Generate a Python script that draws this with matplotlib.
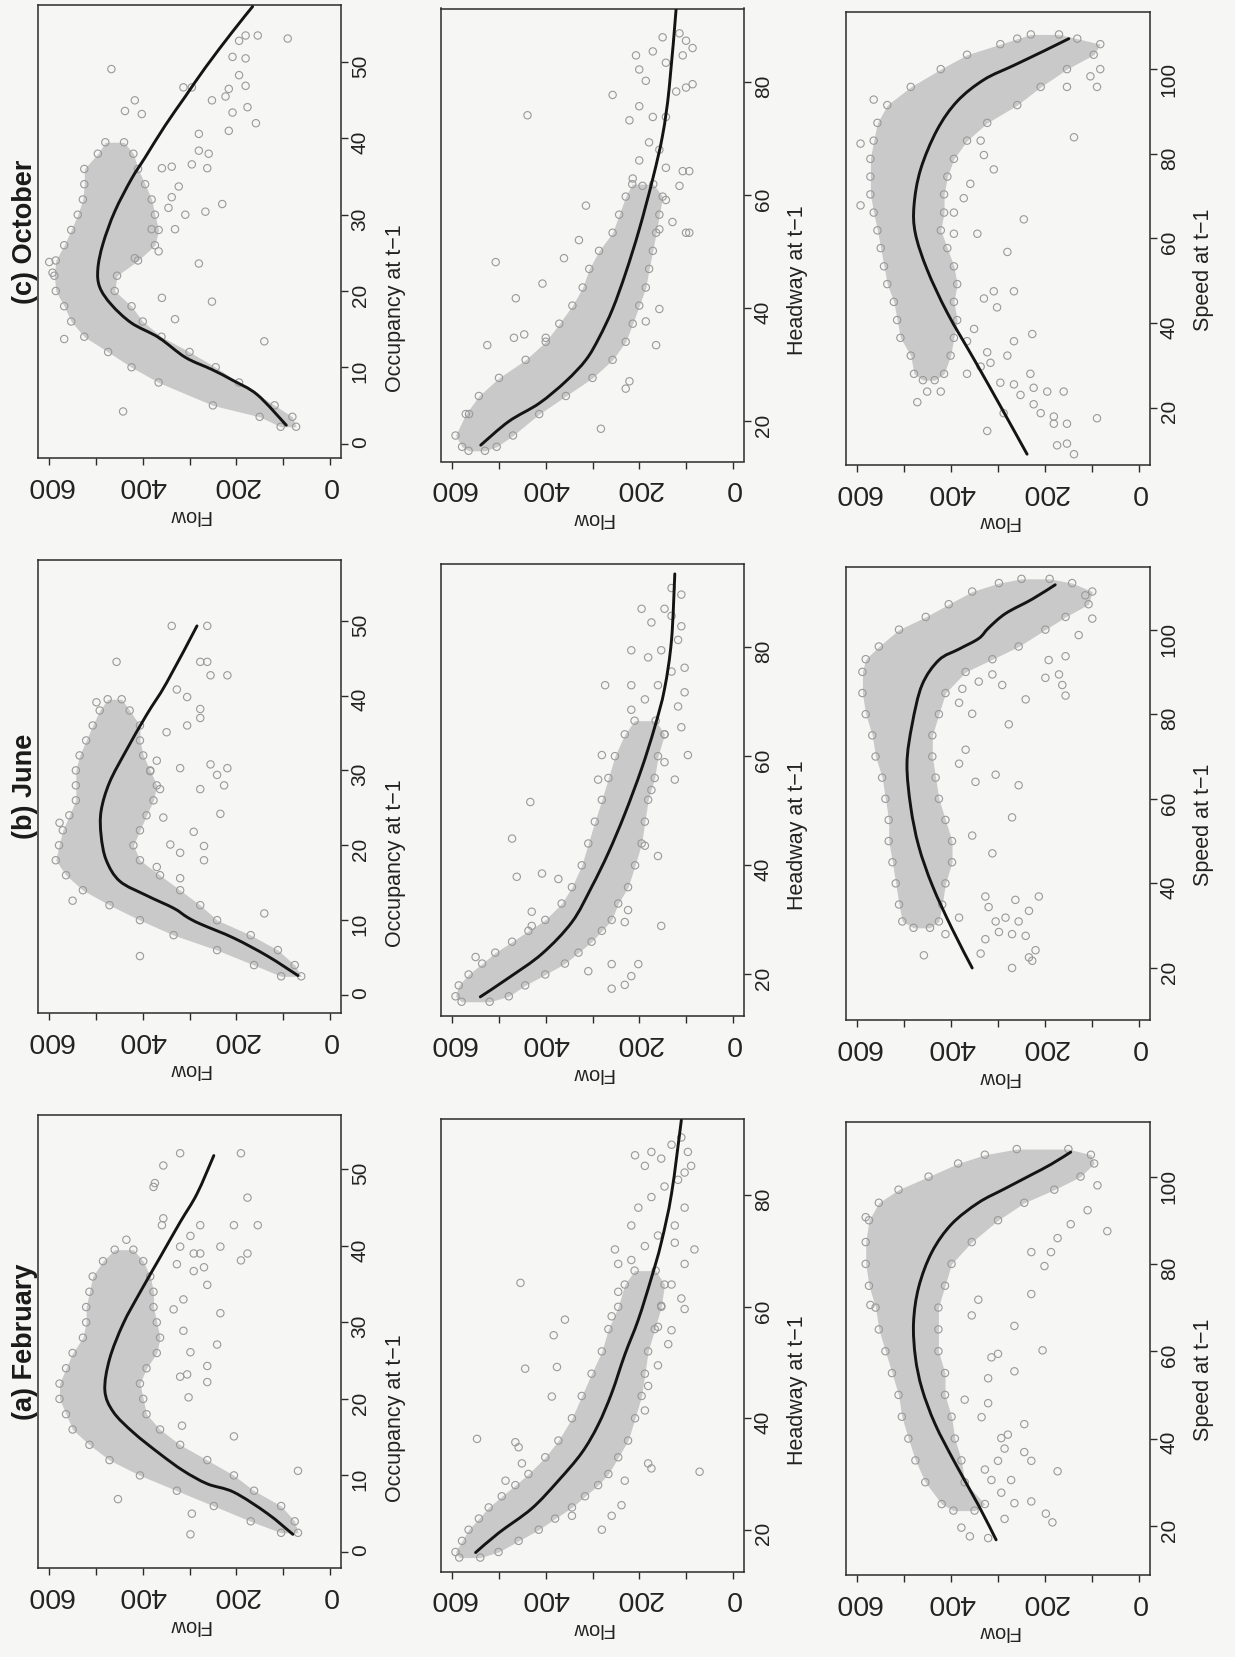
import matplotlib
matplotlib.use("Agg")
import matplotlib.pyplot as plt
from matplotlib import font_manager as fm
from matplotlib.path import Path
from matplotlib.patches import PathPatch

# ---------------- data ----------------
months = ["(a) February", "(b) June", "(c) October"]
var_labels = ["Occupancy at t\u22121", "Headway at t\u22121", "Speed at t\u22121"]
flow_ticks = [0, 100, 200, 300, 400, 500, 600]
flow_ticklabels = ["0", "", "200", "", "400", "", "600"]
occ_ticks = [0, 10, 20, 30, 40, 50]
hw_ticks = [20, 40, 60, 80]
sp_ticks = [20, 40, 60, 80, 100]

# ---- October / Occupancy ----
oct_occ_line_x = [2.4, 6.4, 8.3, 9.7, 11.3, 13.9, 15.8, 18.2, 20.5, 22.9, 26.2, 30.4, 34.7, 37.5, 41.7, 45.5, 49.3, 54.0, 57.3]
oct_occ_line_flow = [93, 155, 208, 252, 309, 366, 424, 467, 492, 496, 485, 460, 424, 395, 352, 309, 266, 208, 165]
oct_occ_band_x = [2.2, 3.5, 5, 8, 10, 12, 14, 16, 18, 20, 22, 24, 26, 28, 30, 32, 34, 36, 38, 39.5]
oct_occ_band_lo = [72, 80, 118, 194, 244, 300, 360, 400, 424, 460, 455, 410, 374, 366, 374, 381, 395, 410, 420, 440]
oct_occ_band_hi = [105, 150, 250, 366, 424, 474, 525, 553, 568, 586, 589, 586, 568, 553, 539, 528, 525, 525, 496, 480]
oct_occ_pts_x = [49.1, 4.2, 13.7, 23.8, 22.4, 41.0, 43.4, 44.1, 42.0, 40.6, 36.1, 36.6, 36.3, 46.7, 46.7, 45.0, 46.5, 48.3, 46.9, 50.7, 50.5, 52.8, 53.5, 53.5, 53.1, 45.5, 38.4, 38.0, 30.4, 31.4, 23.6, 18.6, 13.4, 19.1, 16.3, 28.1, 28.1, 25.2, 24.3, 30.0, 32.3, 36.1, 33.7, 30.9, 43.2, 45.0, 43.6]
oct_occ_pts_flow = [467, 442, 568, 600, 593, 216, 208, 176, 158, 280, 262, 295, 338, 313, 295, 252, 216, 194, 180, 208, 180, 194, 154, 180, 90, 223, 280, 259, 266, 230, 280, 252, 140, 359, 331, 331, 381, 366, 417, 309, 338, 359, 323, 345, 402, 417, 438]

# ---- October / Headway ----
oct_hw_line_x = [15.8, 20.0, 23.2, 27.1, 30.9, 34.8, 39.9, 46.3, 54.0, 63.0, 70.7, 79.0, 93.2]
oct_hw_line_flow = [539, 479, 414, 357, 314, 286, 257, 229, 200, 171, 150, 136, 121]
oct_hw_band_x = [14.8, 15.5, 17.5, 21.3, 24.5, 27.7, 30.9, 34.1, 37.3, 40.5, 43.7, 47.0, 50.2, 53.4, 56.6, 59.8, 62.0]
oct_hw_band_lo = [530, 505, 470, 414, 357, 300, 257, 229, 214, 200, 186, 179, 171, 164, 157, 150, 170]
oct_hw_band_hi = [565, 579, 593, 571, 543, 500, 443, 400, 371, 343, 321, 307, 286, 257, 243, 229, 215]
oct_hw_pts_x = [66.2, 69.4, 68.1, 64.9, 64.3, 75.8, 73.9, 73.9, 78.4, 79.1, 79.7, 80.3, 83.5, 84.8, 86.1, 85.5, 88.0, 88.7, 87.4, 73.3, 84.8, 82.3, 63.0, 61.7, 59.2, 61.7, 53.4, 64.3, 55.3, 54.0, 53.4, 77.8, 39.9, 37.7, 33.5, 25.8, 18.7, 27.1, 74.2, 48.2, 44.4, 41.8, 35.4, 33.5, 34.8, 34.8, 48.9, 58.2, 52.1, 21.3]
oct_hw_pts_flow = [200, 179, 157, 143, 107, 200, 171, 143, 121, 100, 86, 186, 143, 107, 86, 171, 150, 114, 100, 221, 207, 200, 214, 193, 143, 114, 100, 93, 129, 157, 93, 257, 157, 186, 164, 229, 282, 221, 439, 507, 407, 464, 446, 525, 468, 400, 361, 314, 329, 564]

# ---- October / Speed ----
oct_sp_line_x = [9.0, 20.4, 31.4, 42.4, 52.6, 61.1, 67.8, 76.3, 85.6, 92.4, 97.5, 100.9, 104.3, 107.2]
oct_sp_line_flow = [238, 295, 351, 408, 451, 476, 479, 465, 430, 387, 330, 266, 202, 149]
oct_sp_band_x = [26.5, 28, 32.3, 36.5, 40.7, 45, 49.2, 53.4, 57.7, 61.9, 66.1, 70.4, 74.6, 78.8, 83.1, 87.3, 91.5, 95.8, 100, 103.4, 105.9, 107.2, 108.2]
oct_sp_band_lo = [435, 415, 401, 394, 387, 394, 387, 394, 408, 422, 415, 415, 408, 394, 366, 323, 259, 209, 153, 96, 82, 131, 170]
oct_sp_band_hi = [460, 479, 486, 508, 515, 522, 536, 543, 550, 557, 565, 572, 572, 572, 565, 557, 536, 486, 422, 366, 295, 259, 230]
oct_sp_pts_x = [21.3, 23.8, 23.8, 14.5, 18.7, 20.8, 18.7, 17.9, 16.2, 16.2, 11.1, 11.5, 9.0, 17.5, 25.9, 25.5, 23.0, 24.7, 23.8, 23.8, 28.0, 32.3, 30.6, 33.1, 35.7, 38.6, 43.7, 35.7, 37.4, 45.8, 47.5, 47.5, 28.0, 29.7, 61.1, 61.1, 66.1, 56.8, 64.5, 69.5, 72.9, 76.3, 79.7, 83.1, 83.9, 95.8, 98.3, 100.0, 95.8, 82.4, 67.8, 92.8]
oct_sp_pts_flow = [472, 451, 422, 323, 288, 224, 209, 181, 181, 153, 174, 153, 138, 89, 295, 266, 252, 224, 195, 160, 231, 280, 316, 323, 366, 351, 302, 266, 227, 330, 309, 266, 366, 337, 394, 344, 394, 280, 245, 373, 359, 309, 330, 337, 138, 153, 103, 82, 89, 593, 593, 565]

# ---- June / Occupancy ----
jun_occ_line_x = [2.6, 5.2, 7.6, 9.5, 10.4, 11.6, 13.3, 15.2, 18.0, 21.3, 24.6, 28.4, 32.7, 37.4, 41.7, 49.3]
jun_occ_line_flow = [68, 133, 205, 277, 305, 334, 392, 449, 478, 489, 489, 471, 435, 392, 349, 284]
jun_occ_band_x = [2.5, 4, 6, 8, 10, 12, 14, 16, 18, 20, 22, 24, 26, 28, 30, 32, 34, 36, 38, 39.5]
jun_occ_band_lo = [61, 75, 111, 169, 241, 277, 320, 363, 406, 420, 406, 392, 377, 370, 384, 399, 406, 406, 428, 445]
jun_occ_band_hi = [104, 162, 241, 334, 406, 471, 528, 564, 586, 579, 571, 557, 543, 543, 543, 535, 521, 507, 492, 475]
jun_occ_pts_x = [5.2, 12.6, 23.0, 44.5, 39.1, 49.3, 49.3, 44.5, 44.5, 42.7, 39.8, 40.8, 36.0, 38.2, 37.0, 30.8, 29.4, 30.3, 28.0, 27.5, 30.3, 24.2, 21.8, 19.9, 18.0, 15.6, 19.0, 27.5, 31.3, 35.1, 10.9, 17.1, 20.1, 23.7, 42.7, 29.9]
jun_occ_pts_flow = [406, 550, 578, 456, 499, 338, 262, 262, 277, 219, 305, 327, 305, 277, 277, 255, 241, 219, 226, 277, 320, 234, 291, 269, 269, 320, 320, 363, 370, 349, 140, 370, 341, 356, 255, 384]

# ---- June / Headway ----
jun_hw_line_x = [15.9, 19.4, 23.8, 29.6, 36.0, 42.3, 49.4, 57.7, 65.3, 72.3, 81.3, 93.4]
jun_hw_line_flow = [540, 479, 408, 344, 302, 266, 231, 195, 167, 146, 131, 124]
jun_hw_band_x = [15, 16, 18, 20, 22, 24, 26, 28, 30, 33, 36, 40, 44, 48, 52, 56, 60, 64, 66.5]
jun_hw_band_lo = [520, 479, 444, 401, 359, 330, 302, 280, 259, 245, 224, 209, 195, 188, 181, 167, 160, 146, 165]
jun_hw_band_hi = [580, 593, 586, 565, 536, 508, 472, 437, 401, 366, 344, 323, 309, 295, 280, 266, 252, 231, 210]
jun_hw_pts_x = [68.5, 70.4, 73.0, 75.5, 76.2, 73.0, 78.1, 79.4, 81.3, 84.5, 87.0, 89.6, 90.8, 87.0, 83.8, 79.4, 85.7, 71.7, 60.2, 65.3, 69.1, 64.0, 58.9, 55.7, 53.8, 73.0, 60.2, 55.7, 51.6, 44.9, 38.5, 37.9, 37.5, 31.5, 28.9, 23.2, 28.9, 31.8, 29.6, 21.9, 20.6, 17.4, 18.1, 19.7, 21.9, 41.7, 43.6]
jun_hw_pts_flow = [217, 188, 160, 131, 103, 217, 181, 153, 117, 174, 146, 110, 131, 195, 110, 217, 131, 103, 96, 110, 117, 146, 146, 124, 174, 273, 280, 288, 433, 472, 408, 462, 373, 430, 430, 550, 153, 224, 231, 259, 309, 259, 231, 217, 202, 160, 188]

# ---- June / Speed ----
jun_sp_line_x = [20.0, 29.3, 39.5, 48.8, 58.1, 68.3, 77.6, 86.9, 92.8, 95.4, 97.9, 100.4, 103.8, 107.2, 110.6]
jun_sp_line_flow = [355, 398, 440, 469, 486, 494, 483, 462, 426, 383, 341, 320, 284, 227, 178]
jun_sp_band_x = [29.5, 31, 35, 40, 45, 50, 55, 60, 65, 70, 75, 80, 85, 90, 93, 96, 100, 103, 106, 109, 111, 112]
jun_sp_band_lo = [445, 426, 419, 412, 398, 398, 412, 426, 433, 440, 440, 426, 412, 369, 312, 256, 199, 156, 107, 99, 142, 190]
jun_sp_band_hi = [480, 504, 511, 518, 525, 533, 533, 540, 547, 561, 568, 582, 589, 589, 582, 554, 511, 454, 405, 355, 298, 250]
jun_sp_pts_x = [23.0, 28.0, 31.9, 23.4, 26.8, 20.0, 22.5, 24.2, 21.7, 27.6, 28.0, 28.5, 31.0, 31.9, 31.0, 33.5, 36.9, 34.4, 36.9, 36.1, 47.1, 51.3, 55.6, 65.7, 64.0, 63.2, 68.3, 71.6, 77.6, 80.1, 82.7, 86.0, 87.7, 89.4, 86.9, 83.5, 88.6, 89.4, 86.9, 84.4, 92.8, 93.7, 98.7, 102.6, 108.1]
jun_sp_pts_flow = [458, 412, 383, 337, 327, 270, 234, 220, 227, 241, 270, 298, 305, 284, 256, 234, 213, 320, 327, 263, 312, 355, 270, 305, 348, 256, 383, 369, 277, 355, 383, 376, 341, 312, 291, 241, 199, 170, 163, 156, 192, 156, 128, 99, 114]

# ---- February / Occupancy ----
feb_occ_line_x = [2.3, 5.0, 7.8, 8.9, 10.6, 12.8, 15.6, 18.3, 21.1, 25.2, 29.8, 33.9, 38.5, 43.1, 46.8, 51.8]
feb_occ_line_flow = [79, 133, 205, 262, 313, 363, 420, 463, 481, 471, 442, 406, 363, 320, 284, 248]
feb_occ_band_x = [2.5, 4, 6, 8, 10, 12, 14, 16, 18, 20, 22, 24, 26, 28, 30, 32, 34, 36, 38, 39.5]
feb_occ_band_lo = [68, 75, 104, 162, 205, 262, 320, 363, 392, 399, 406, 392, 370, 363, 370, 377, 377, 384, 399, 420]
feb_occ_band_hi = [104, 169, 248, 327, 406, 471, 514, 550, 564, 578, 578, 564, 550, 528, 521, 521, 514, 507, 485, 460]
feb_occ_pts_x = [2.3, 5.0, 6.9, 10.6, 15.1, 16.5, 20.2, 22.9, 22.2, 27.1, 24.3, 31.2, 34.9, 38.1, 39.9, 39.0, 42.7, 46.3, 52.1, 52.1, 50.5, 48.2, 47.7, 43.6, 42.7, 40.8, 39.0, 39.0, 39.9, 37.6, 41.3, 36.7, 33.0, 31.7, 28.9, 26.1, 23.2, 42.7, 37.2, 42.7]
feb_occ_pts_flow = [298, 295, 453, 68, 205, 316, 302, 320, 262, 241, 262, 234, 262, 190, 234, 176, 154, 176, 190, 320, 356, 374, 377, 356, 359, 435, 291, 277, 320, 327, 298, 291, 313, 334, 313, 298, 305, 205, 269, 277]

# ---- February / Headway ----
feb_hw_line_x = [15.9, 19.4, 23.8, 28.8, 33.8, 38.8, 44.5, 51.4, 57.7, 65.2, 71.5, 80.3, 93.5]
feb_hw_line_flow = [550, 501, 430, 373, 323, 288, 259, 231, 202, 174, 153, 131, 110]
feb_hw_band_x = [15, 16, 18, 20, 22, 24, 26, 28, 30, 33, 36, 40, 44, 48, 52, 56, 60, 64, 66.5]
feb_hw_band_lo = [540, 501, 458, 415, 380, 344, 316, 288, 266, 245, 224, 209, 195, 188, 181, 167, 153, 146, 165]
feb_hw_band_hi = [585, 593, 579, 565, 543, 522, 494, 465, 437, 401, 373, 344, 323, 302, 280, 266, 245, 231, 210]
feb_hw_pts_x = [68.4, 70.9, 72.8, 74.6, 77.8, 70.3, 67.7, 74.6, 77.8, 79.7, 81.6, 82.8, 84.1, 85.3, 87.8, 89.1, 90.4, 87.8, 85.3, 87.2, 86.6, 71.5, 61.5, 59.6, 64.0, 60.2, 67.7, 70.3, 62.7, 58.3, 56.4, 55.8, 53.3, 49.5, 45.8, 41.4, 28.8, 31.9, 31.0, 30.4, 24.4, 22.5, 20.0, 22.5, 36.3, 64.3, 54.9, 48.9, 49.2, 57.7, 43.9, 35.7, 34.8, 31.9, 28.8]
feb_hw_pts_flow = [217, 188, 160, 124, 103, 82, 103, 217, 202, 174, 146, 117, 103, 188, 174, 131, 110, 96, 89, 209, 153, 124, 110, 103, 131, 153, 245, 252, 245, 259, 160, 131, 138, 160, 181, 188, 231, 181, 174, 71, 238, 259, 280, 344, 547, 454, 383, 444, 376, 359, 387, 465, 458, 451, 486]

# ---- February / Speed ----
feb_sp_line_x = [16.8, 24.8, 34.5, 43.3, 51.4, 58.6, 66.6, 74.7, 82.7, 89.1, 94.0, 97.2, 100.4, 102.8, 105.6]
feb_sp_line_flow = [304, 342, 392, 434, 462, 476, 480, 469, 441, 399, 342, 286, 229, 187, 145]
feb_sp_band_x = [23.5, 25, 30, 35, 40, 45, 50, 55, 60, 65, 70, 75, 80, 85, 90, 94, 97, 100, 103, 105, 106.3]
feb_sp_band_lo = [350, 328, 371, 378, 392, 399, 413, 413, 427, 427, 427, 413, 399, 356, 300, 244, 180, 124, 95, 102, 150]
feb_sp_band_hi = [395, 420, 455, 476, 491, 505, 512, 526, 540, 554, 561, 575, 582, 582, 575, 554, 512, 448, 385, 328, 260]
feb_sp_pts_x = [17.6, 17.2, 19.6, 21.6, 22.8, 20.8, 25.6, 25.2, 27.6, 30.5, 30.5, 32.9, 34.9, 37.7, 34.9, 36.9, 40.1, 40.9, 32.5, 43.3, 44.9, 48.1, 48.9, 53.8, 55.4, 59.4, 58.6, 60.2, 65.8, 71.8, 68.2, 73.1, 79.5, 82.7, 85.9, 82.7, 89.1, 92.3, 87.5, 98.0, 90.7, 70.6]
feb_sp_pts_flow = [360, 321, 378, 286, 198, 184, 229, 265, 293, 272, 314, 328, 300, 286, 229, 244, 293, 279, 173, 244, 335, 321, 371, 321, 265, 300, 314, 205, 265, 342, 356, 229, 201, 229, 173, 187, 145, 109, 67, 88, 582, 572]

# ---------------- layout / style ----------------
W, H, DPI = 1235, 1657, 100
BG = "#f6f6f4"
names = {f.name for f in fm.fontManager.ttflist}
BASE = "Liberation Sans" if "Liberation Sans" in names else "DejaVu Sans"
NARROW = "Liberation Sans Narrow" if "Liberation Sans Narrow" in names else BASE
plt.rcParams["font.family"] = [BASE, "DejaVu Sans"]

fig = plt.figure(figsize=(W / DPI, H / DPI), dpi=DPI)
fig.patch.set_facecolor(BG)

col_lr = [(38, 341), (441, 744), (846, 1150)]
col_dy = [0, 3.5, 7]
row_top = {"(c) October": 5, "(b) June": 560, "(a) February": 1115}
BOX_H = 453
label_frac = [0.67, 0.60, 0.57]
var_ticks = [occ_ticks, hw_ticks, sp_ticks]

ylims = {
    "(c) October": [(-1.9, 57.5), (12.9, 93.1), (6.45, 113.5)],
    "(b) June": [(-2.4, 58.1), (12.3, 95.3), (7.7, 114.8)],
    "(a) February": [(-2.1, 57.1), (12.5, 93.8), (8.75, 112.5)],
}

panels = {
    "(c) October": [
        (oct_occ_line_x, oct_occ_line_flow, oct_occ_band_x, oct_occ_band_lo, oct_occ_band_hi, oct_occ_pts_x, oct_occ_pts_flow),
        (oct_hw_line_x, oct_hw_line_flow, oct_hw_band_x, oct_hw_band_lo, oct_hw_band_hi, oct_hw_pts_x, oct_hw_pts_flow),
        (oct_sp_line_x, oct_sp_line_flow, oct_sp_band_x, oct_sp_band_lo, oct_sp_band_hi, oct_sp_pts_x, oct_sp_pts_flow),
    ],
    "(b) June": [
        (jun_occ_line_x, jun_occ_line_flow, jun_occ_band_x, jun_occ_band_lo, jun_occ_band_hi, jun_occ_pts_x, jun_occ_pts_flow),
        (jun_hw_line_x, jun_hw_line_flow, jun_hw_band_x, jun_hw_band_lo, jun_hw_band_hi, jun_hw_pts_x, jun_hw_pts_flow),
        (jun_sp_line_x, jun_sp_line_flow, jun_sp_band_x, jun_sp_band_lo, jun_sp_band_hi, jun_sp_pts_x, jun_sp_pts_flow),
    ],
    "(a) February": [
        (feb_occ_line_x, feb_occ_line_flow, feb_occ_band_x, feb_occ_band_lo, feb_occ_band_hi, feb_occ_pts_x, feb_occ_pts_flow),
        (feb_hw_line_x, feb_hw_line_flow, feb_hw_band_x, feb_hw_band_lo, feb_hw_band_hi, feb_hw_pts_x, feb_hw_pts_flow),
        (feb_sp_line_x, feb_sp_line_flow, feb_sp_band_x, feb_sp_band_lo, feb_sp_band_hi, feb_sp_pts_x, feb_sp_pts_flow),
    ],
}

CORE = "#c9c9c9"
PT_EDGE = "#9a9a9a"
AXC = "#2b2b2b"


def smooth_path(xs, ys):
    """Smooth (Catmull-Rom as cubic Bezier) path through the read points."""
    pts = list(zip(xs, ys))
    n = len(pts)
    verts = [pts[0]]
    codes = [Path.MOVETO]
    for i in range(n - 1):
        p0 = pts[i - 1] if i > 0 else pts[i]
        p1, p2 = pts[i], pts[i + 1]
        p3 = pts[i + 2] if i + 2 < n else pts[i + 1]
        c1 = (p1[0] + (p2[0] - p0[0]) / 6.0, p1[1] + (p2[1] - p0[1]) / 6.0)
        c2 = (p2[0] - (p3[0] - p1[0]) / 6.0, p2[1] - (p3[1] - p1[1]) / 6.0)
        verts += [c1, c2, p2]
        codes += [Path.CURVE4] * 3
    return Path(verts, codes)


for month in months:
    for ci in range(3):
        L, R = col_lr[ci]
        T = row_top[month] + col_dy[ci]
        B = T + BOX_H
        ax = fig.add_axes([L / W, 1 - B / H, (R - L) / W, BOX_H / H])
        ax.set_facecolor("none")
        lx, lf, bx, blo, bhi, px, pf = panels[month][ci]

        # dense core of the cloud, its rim of circles, the scattered points
        ax.fill_betweenx(bx, blo, bhi, color=CORE, lw=0, zorder=1)
        kw = dict(s=28, facecolors="none", edgecolors=PT_EDGE, linewidths=0.8, zorder=2)
        ax.scatter(blo, bx, **kw)
        ax.scatter(bhi, bx, **kw)
        ax.scatter(pf, px, **kw)
        ax.add_patch(PathPatch(smooth_path(lf, lx), fill=False, edgecolor="#141414",
                               lw=2.1, capstyle="round", zorder=3))

        ax.set_xlim(624, -24)
        ax.set_ylim(*ylims[month][ci])
        for s in ax.spines.values():
            s.set_linewidth(1.1)
            s.set_color(AXC)

        ax.set_xticks(flow_ticks)
        ax.set_xticklabels(flow_ticklabels)
        ax.tick_params(axis="x", direction="out", length=5, width=1.0, color=AXC,
                       pad=5, labelsize=20.5, labelrotation=180, labelcolor="#222222")
        for t in ax.get_xticklabels():
            t.set_fontfamily(NARROW)

        ax.yaxis.tick_right()
        ax.set_yticks(var_ticks[ci])
        ax.set_yticklabels([str(v) for v in var_ticks[ci]])
        ax.tick_params(axis="y", direction="out", length=5, width=1.0, color=AXC,
                       pad=2, labelsize=15, labelrotation=90, labelcolor="#222222")

        # axis titles
        fig.text((L + R) / 2 / W, 1 - (B + 57) / H, "Flow", rotation=180,
                 ha="center", va="center", fontsize=14.5, color="#222222")
        fig.text((R + 54) / W, 1 - (T + label_frac[ci] * BOX_H) / H, var_labels[ci],
                 rotation=90, ha="center", va="center", fontsize=15.5, color="#222222")
        if ci == 0:
            fig.text(25 / W, 1 - (T + BOX_H / 2) / H, month, rotation=90, ha="center",
                     va="center", fontsize=19.5, fontweight="bold", color="#1a1a1a")

fig.savefig("out.png", dpi=DPI, facecolor=BG)
